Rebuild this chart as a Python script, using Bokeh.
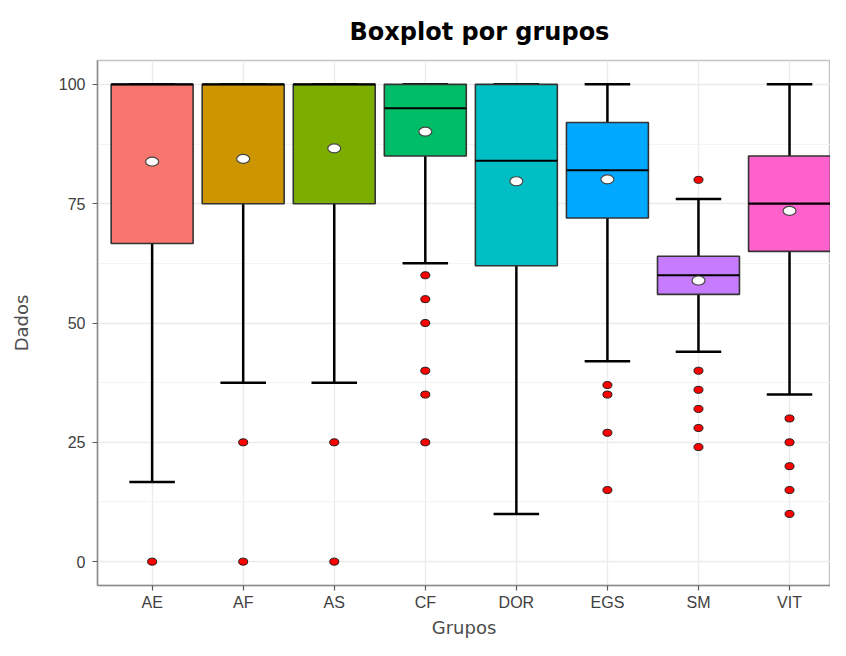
from bokeh.plotting import figure
from bokeh.models import Range1d, FixedTicker, SingleIntervalTicker, ColumnDataSource
from bokeh.embed import file_html
from bokeh.resources import INLINE

# ---- data ----
groups = ["AE", "AF", "AS", "CF", "DOR", "EGS", "SM", "VIT"]
q1 = [66.67, 75, 75, 85, 62, 72, 56, 65]
medians = [100, 100, 100, 95, 84, 82, 60, 75]
q3 = [100, 100, 100, 100, 100, 92, 64, 85]
lower_whisker = [16.67, 37.5, 37.5, 62.5, 10, 42, 44, 35]
upper_whisker = [100, 100, 100, 100, 100, 100, 76, 100]
means = [83.8, 84.4, 86.6, 90.1, 79.7, 80.1, 58.9, 73.5]

outliers_AE = [0]
outliers_AF = [25, 0]
outliers_AS = [25, 0]
outliers_CF = [60, 55, 50, 40, 35, 25]
outliers_DOR = []
outliers_EGS = [37, 35, 27, 15]
outliers_SM = [80, 40, 36, 32, 28, 24]
outliers_VIT = [30, 25, 20, 15, 10]

colors = ["#F8766D", "#CD9600", "#7CAE00", "#00BE67",
          "#00BFC4", "#00A9FF", "#C77CFF", "#FF61CC"]

# ---- build sources ----
pos = [i + 1 for i in range(len(groups))]
box_w = 0.9
cap_w = 0.5

box_src = ColumnDataSource(dict(
    x=pos, q1=q1, q3=q3, med=medians, lo=lower_whisker, hi=upper_whisker,
    mean=means, color=colors,
    bx0=[x - box_w / 2 for x in pos], bx1=[x + box_w / 2 for x in pos],
    cx0=[x - cap_w / 2 for x in pos], cx1=[x + cap_w / 2 for x in pos],
))

all_out = [outliers_AE, outliers_AF, outliers_AS, outliers_CF,
           outliers_DOR, outliers_EGS, outliers_SM, outliers_VIT]
ox, oy = [], []
for x, vals in zip(pos, all_out):
    for v in vals:
        ox.append(x)
        oy.append(v)
out_src = ColumnDataSource(dict(x=ox, y=oy))

# ---- figure ----
p = figure(width=830, height=640,
           x_range=Range1d(0.4, 8.45), y_range=Range1d(-5, 105),
           output_backend="svg", toolbar_location=None,
           min_border_left=97, min_border_right=0,
           min_border_top=60, min_border_bottom=10,
           title="Boxplot por grupos")

p.background_fill_color = "white"
p.border_fill_color = "white"
p.outline_line_color = "#c4c4c4"
p.outline_line_width = 1.5

p.title.align = "left"
p.title.offset = 252
p.title.vertical_align = "top"
p.title.text_font = "DejaVu Sans"
p.title.text_font_style = "bold"
p.title.text_font_size = "24px"
p.title.text_color = "black"
p.title.standoff = 25

# axes
p.xaxis.ticker = FixedTicker(ticks=pos)
p.xaxis.major_label_overrides = {x: g for x, g in zip(pos, groups)}
p.yaxis.ticker = SingleIntervalTicker(interval=25, num_minor_ticks=2)
p.xaxis.axis_label = "Grupos"
p.yaxis.axis_label = "Dados"
for ax in (p.xaxis[0], p.yaxis[0]):
    ax.axis_line_color = "#8c8c8c"
    ax.axis_line_width = 1.5
    ax.major_tick_line_color = "#5a5a5a"
    ax.major_tick_line_width = 1.2
    ax.major_tick_out = 5
    ax.major_tick_in = 0
    ax.minor_tick_out = 0
    ax.minor_tick_in = 0
    ax.major_label_text_font = "Liberation Sans"
    ax.major_label_text_font_size = "16px"
    ax.major_label_text_color = "#404040"
    ax.axis_label_text_font = "DejaVu Sans"
    ax.axis_label_text_font_size = "18px"
    ax.axis_label_text_font_style = "normal"
    ax.axis_label_text_color = "#4d4d4d"
p.xaxis.major_label_standoff = 3
p.xaxis.axis_label_standoff = 3
p.yaxis.major_label_standoff = 7
p.yaxis.axis_label_standoff = 24

# grid
p.xgrid.grid_line_color = "#ebebeb"
p.xgrid.grid_line_width = 1.3
p.ygrid.grid_line_color = "#ebebeb"
p.ygrid.grid_line_width = 1.3
p.ygrid.minor_grid_line_color = "#f4f4f4"
p.ygrid.minor_grid_line_width = 1.0

# whiskers (full error bar, box drawn on top)
p.segment(x0="x", y0="lo", x1="x", y1="hi", source=box_src,
          line_color="black", line_width=2.5)
p.segment(x0="cx0", y0="lo", x1="cx1", y1="lo", source=box_src,
          line_color="black", line_width=2.5)
p.segment(x0="cx0", y0="hi", x1="cx1", y1="hi", source=box_src,
          line_color="black", line_width=2.5)

# boxes
p.quad(left="bx0", right="bx1", bottom="q1", top="q3", source=box_src,
       fill_color="color", line_color="#333333", line_width=1.6)

# medians
p.segment(x0="bx0", y0="med", x1="bx1", y1="med", source=box_src,
          line_color="black", line_width=2.2)

# outliers
p.ellipse(x="x", y="y", width=9, height=7,
          width_units="screen", height_units="screen", source=out_src,
          fill_color="#FF0000", line_color="#1a1a1a", line_width=1)

# means
p.ellipse(x="x", y="mean", width=13, height=9,
          width_units="screen", height_units="screen", source=box_src,
          fill_color="white", line_color="#444444", line_width=1.2)

open("out.html", "w").write(file_html(p, INLINE))
